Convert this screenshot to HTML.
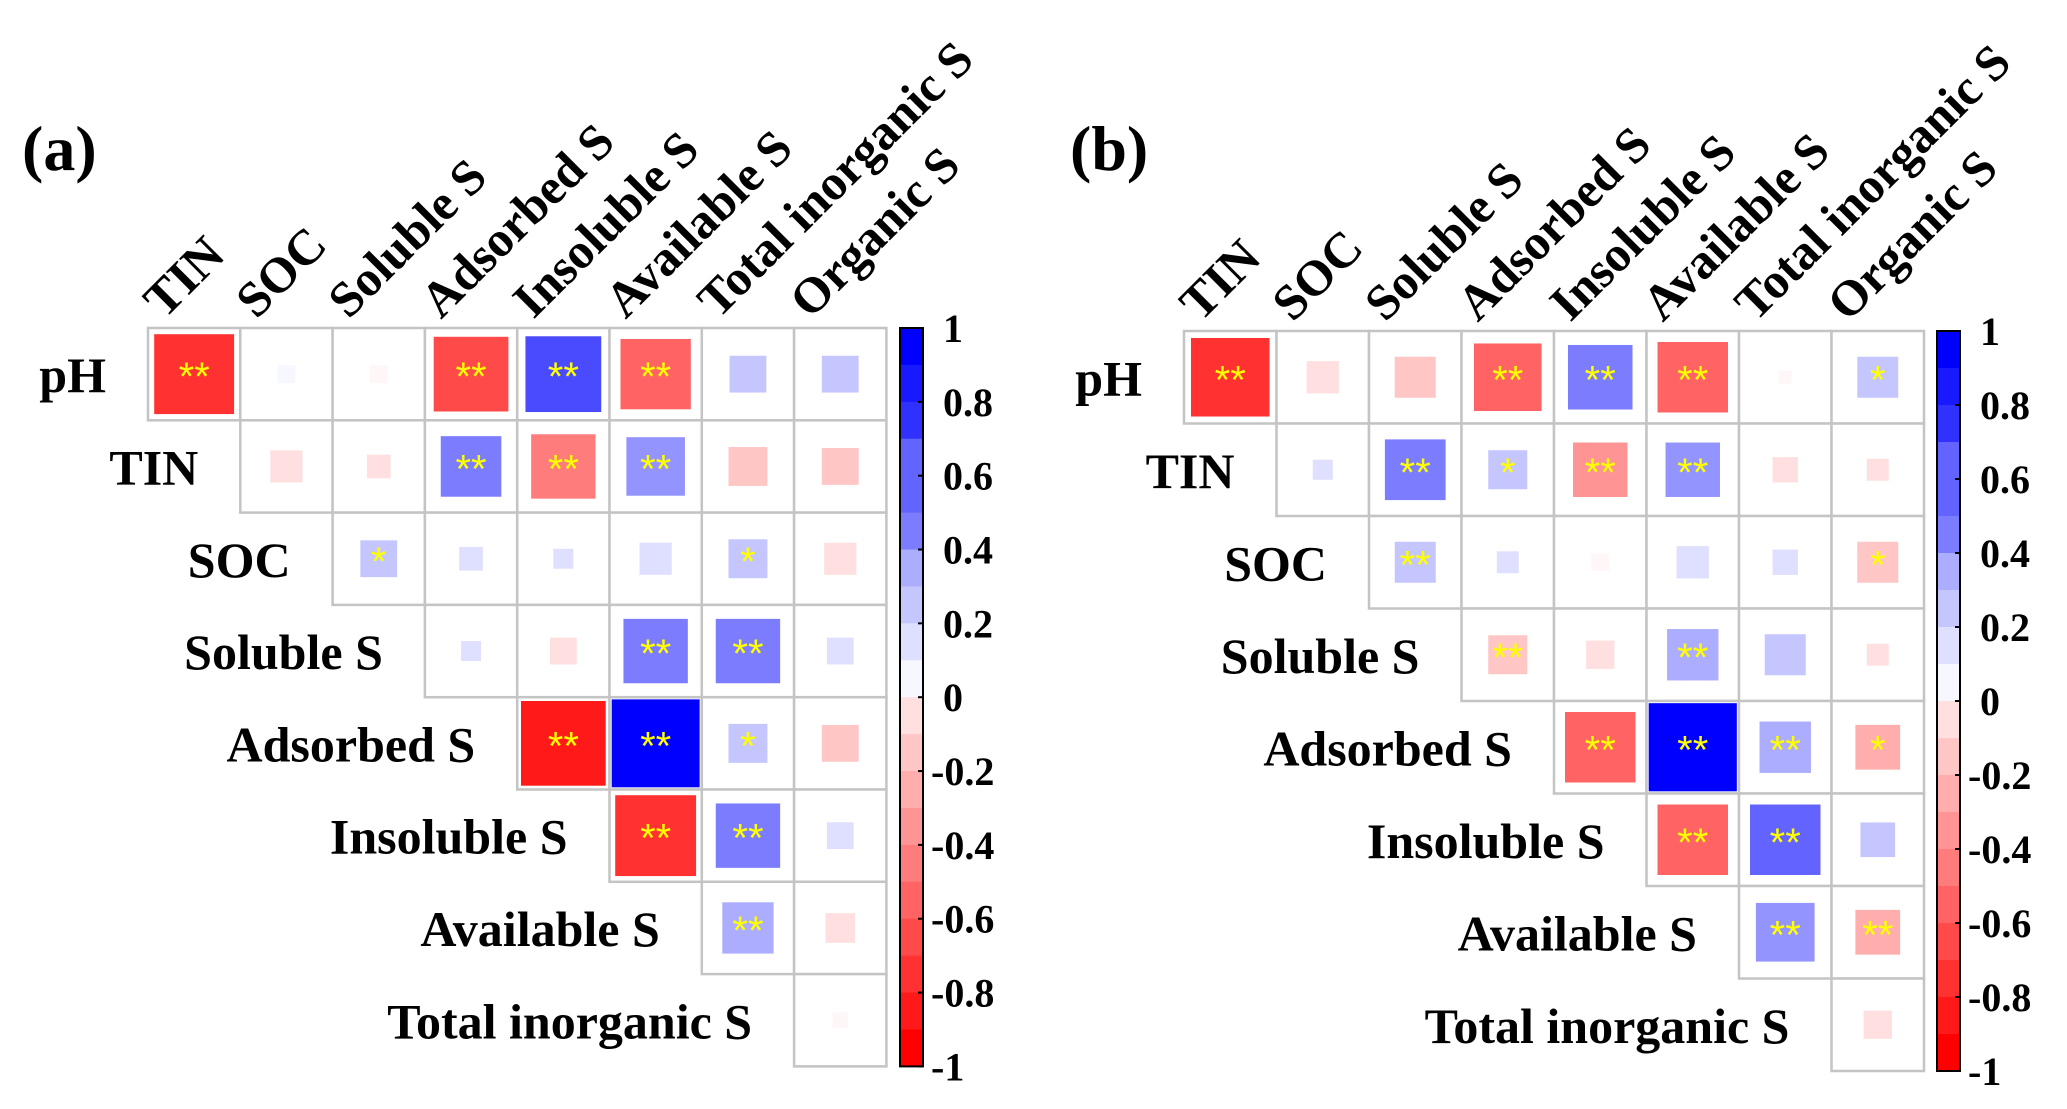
<!DOCTYPE html>
<html><head><meta charset="utf-8">
<style>
html,body{margin:0;padding:0;background:#fff;}
svg{display:block;}
text{font-family:"Liberation Serif","Times New Roman",Times,"Noto Serif CJK SC","DejaVu Serif",serif;font-weight:bold;}
</style></head>
<body>
<svg id="chart" width="2067" height="1109" viewBox="0 0 2067 1109" xmlns="http://www.w3.org/2000/svg"></svg>
<script>
const rowLabels = ["pH","TIN","SOC","Soluble S","Adsorbed S","Insoluble S","Available S","Total inorganic S"];
const colLabels = ["TIN","SOC","Soluble S","Adsorbed S","Insoluble S","Available S","Total inorganic S","Organic S"];
const tickLabels = ["1","0.8","0.6","0.4","0.2","0","-0.2","-0.4","-0.6","-0.8","-1"];
const tickValues = [1,0.8,0.6,0.4,0.2,0,-0.2,-0.4,-0.6,-0.8,-1];
// panel (a) correlations, row i holds columns i..7
const valuesA = [
 [-0.8,0.04,-0.04,-0.7,0.72,-0.62,0.17,0.17],
 [-0.13,-0.07,0.46,-0.52,0.43,-0.19,-0.17],
 [0.17,0.07,0.05,0.13,0.19,-0.13],
 [0.05,-0.09,0.52,0.52,0.09],
 [-0.9,0.97,0.19,-0.17],
 [-0.82,0.52,0.09],
 [0.33,-0.11],
 [-0.03]
];
const sigA = [
 ["**","","","**","**","**","",""],
 ["","","**","**","**","",""],
 ["*","","","","*",""],
 ["","","**","**",""],
 ["**","**","*",""],
 ["**","**",""],
 ["**",""],
 [""]
];
const valuesB = [
 [-0.77,-0.13,-0.21,-0.57,0.52,-0.62,-0.02,0.21],
 [0.05,0.46,0.19,-0.37,0.37,-0.08,-0.06],
 [0.21,0.06,-0.04,0.13,0.08,-0.21],
 [-0.19,-0.1,0.33,0.21,-0.06],
 [-0.62,0.97,0.33,-0.25],
 [-0.62,0.62,0.15],
 [0.43,-0.25],
 [-0.1]
];
const sigB = [
 ["**","","","**","**","**","","*"],
 ["","**","*","**","**","",""],
 ["**","","","","","*"],
 ["**","","**","",""],
 ["**","**","**","*"],
 ["**","**",""],
 ["**","**"],
 [""]
];

const NS = "http://www.w3.org/2000/svg";
const svg = document.getElementById('chart');
function mk(tag, attrs, parent){
  const e = document.createElementNS(NS, tag);
  for (const k in attrs) e.setAttribute(k, attrs[k]);
  (parent||svg).appendChild(e);
  return e;
}
function color(r){
  const t = Math.min(1, Math.round(Math.abs(r)*10)/10);
  const c = Math.round(255*(1-t)*0.97);
  return r < 0 ? `rgb(255,${c},${c})` : `rgb(${c},${c},255)`;
}

function panel(id, ox, oy, cell, vals, sigs, cbx, title, tx){
  const g = mk('g', {});
  
  
  const t = mk('text', {x: tx, y: 170, 'font-size': 64}, g);
  t.textContent = title;
  
  
  const xCol = j => ox + j*cell;
  const yRow = i => oy + i*cell;
  for (let j = 0; j < colLabels.length; j++){
    const cx = xCol(j) + cell/2 - 30, cy = oy - 8;
    const lab = mk('text', {x: cx, y: cy, 'font-size': 50, transform: `rotate(-45 ${cx} ${cy})`}, g);
    lab.textContent = colLabels[j];
    
    
  }
  for (let i = 0; i < rowLabels.length; i++){
    const lab = mk('text', {x: xCol(i) - 42, y: yRow(i) + cell/2 + 18, 'font-size': 50, 'text-anchor': 'end'}, g);
    lab.textContent = rowLabels[i];
    
    
    for (let k = 0; k < vals[i].length; k++){
      const j = i + k, r = vals[i][k];
      const x0 = xCol(j), y0 = yRow(i);
      const cr = mk('rect', {x: x0, y: y0, width: cell, height: cell, fill: '#fff', stroke: '#c4c4c4', 'stroke-width': 2.5}, g);
      
      
      const s = Math.sqrt(Math.abs(r)) * (cell - 3);
      const sq = mk('rect', {x: x0 + (cell - s)/2, y: y0 + (cell - s)/2, width: s, height: s, fill: color(r)}, g);
      
      
      if (sigs[i][k]){
        const st = mk('text', {x: x0 + cell/2, y: y0 + cell/2 + 16, 'font-size': 40, fill: '#ffff00', 'text-anchor': 'middle', style: 'font-family:"Liberation Sans",sans-serif;font-weight:normal'}, g);
        st.textContent = sigs[i][k];
        
        
      }
    }
  }
  // colorbar
  const top = oy, bot = oy + cell*8, h = bot - top, w = 23;
  const yv = v => top + (1 - v)/2 * h;
  for (let b = 0; b < 20; b++){
    const vHi = 1 - b*0.1, vLo = vHi - 0.1;
    const mid = (vHi + vLo)/2;
    const br = mk('rect', {x: cbx, y: yv(vHi), width: w, height: yv(vLo) - yv(vHi) + 0.5, fill: color(mid)}, g);
    
    
  }
  const frame = mk('rect', {x: cbx, y: top, width: w, height: h, fill: 'none', stroke: '#000', 'stroke-width': 2}, g);
  
  
  for (let k = 0; k < tickValues.length; k++){
    const y = yv(tickValues[k]);
    const tk = mk('line', {x1: cbx + w - 5, x2: cbx + w, y1: y, y2: y, stroke: '#000', 'stroke-width': 2}, g);
    
    
    const neg = tickValues[k] < 0;
    const lt = mk('text', {x: cbx + w + (neg ? 8 : 20), y: y + 14, 'font-size': 40}, g);
    lt.textContent = tickLabels[k];
    
    
  }
}
panel('a', 148, 328, 92.3, valuesA, sigA, 900, '(a)', 22);
panel('b', 1184, 331, 92.5, valuesB, sigB, 1937, '(b)', 1070);
</script>
</body></html>
